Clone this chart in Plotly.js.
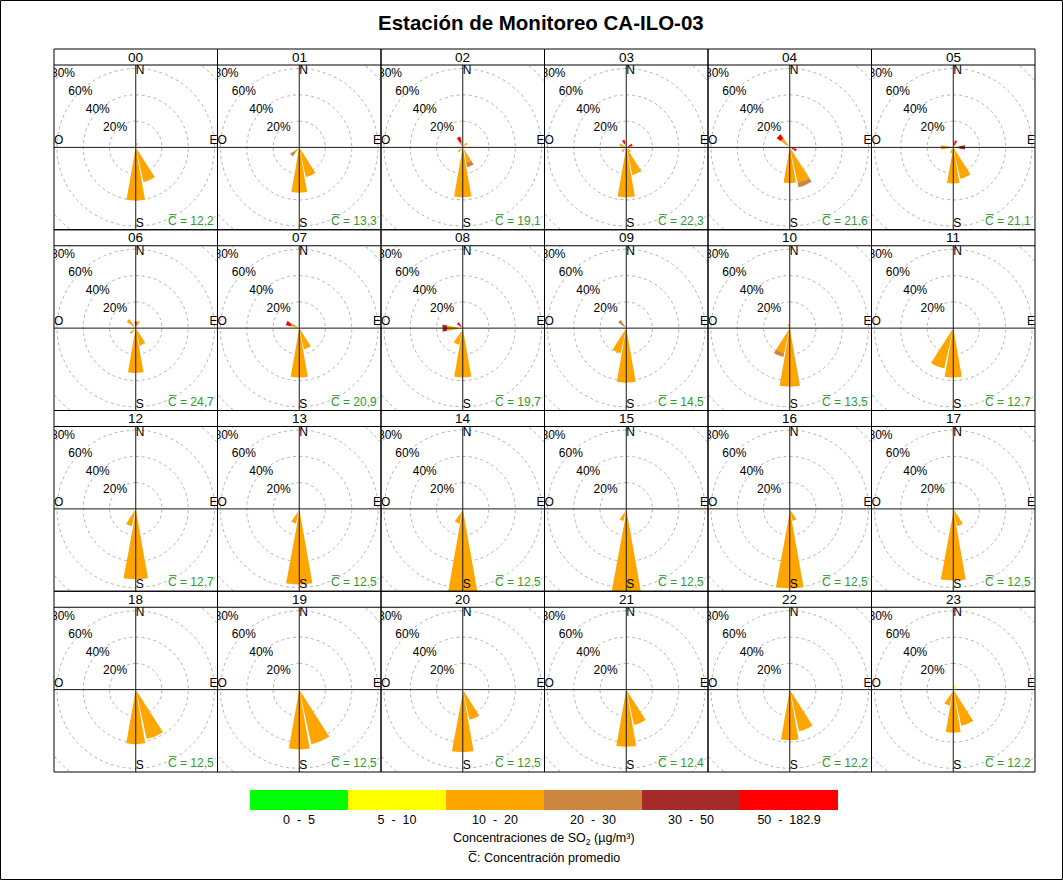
<!DOCTYPE html>
<html><head><meta charset="utf-8">
<script src="https://cdn.plot.ly/plotly-3.0.1.min.js"></script>
<style>html,body{margin:0;padding:0;background:#fff}</style>
</head><body><div id="chart" style="width:1063px;height:880px"></div>
<script>
// ---------------- DATA ----------------
const hours = ['00','01','02','03','04','05','06','07','08','09','10','11','12','13','14','15','16','17','18','19','20','21','22','23'];
const meanConc = [12.2,13.3,19.1,22.3,21.6,21.1,24.7,20.9,19.7,14.5,13.5,12.7,12.7,12.5,12.5,12.5,12.5,12.5,12.5,12.5,12.5,12.4,12.2,12.2];
const binLabels = ['0  -  5','5  -  10','10  -  20','20  -  30','30  -  50','50  -  182.9'];
const ringValues = [20,40,60,80];
const ringLabels = ['20%','40%','60%','80%'];
// each entry: [direction (deg, clockwise from N), concentration bin index, frequency % in that bin]
const freq00 = [[180,2,39],[157.5,2,25.5],[22.5,2,2]];
const freq01 = [[180,2,33],[157.5,2,21.5],[225,2,3.5],[225,3,3.5]];
const freq02 = [[180,2,36.4],[157.5,2,10.5],[157.5,3,3.5],[337.5,2,2.5],[337.5,5,4.5],[45,2,3],[225,2,3]];
const freq03 = [[180,2,36.4],[157.5,2,20],[337.5,2,1.5],[337.5,5,3],[67.5,5,3.5],[292.5,2,4],[225,2,3],[135,2,3]];
const freq04 = [[180,2,25.7],[157.5,2,26],[157.5,3,3.5],[315,2,7],[315,5,3.7],[112.5,5,4]];
const freq05 = [[180,2,26],[157.5,2,23],[270,2,8],[90,2,3],[90,4,4.5],[22.5,5,4],[202.5,2,3]];
const freq06 = [[180,2,32.6],[157.5,2,12],[315,2,7],[0,5,3.5],[22.5,2,4],[225,2,4]];
const freq07 = [[180,2,36],[157.5,2,15],[292.5,2,5],[292.5,5,4]];
const freq08 = [[180,2,36],[202.5,2,11.4],[270,2,10.5],[270,4,3.5],[315,5,4]];
const freq09 = [[180,2,40],[202.5,2,18],[315,3,6]];
const freq10 = [[180,2,43],[202.5,2,18],[202.5,3,3],[337.5,2,2]];
const freq11 = [[180,2,36],[202.5,2,30]];
const freq12 = [[180,2,52],[202.5,2,12]];
const freq13 = [[180,2,56],[202.5,2,10]];
const freq14 = [[180,2,65],[202.5,2,10]];
const freq15 = [[180,2,63],[202.5,2,8]];
const freq16 = [[180,2,59],[157.5,2,8]];
const freq17 = [[180,2,53],[157.5,2,12]];
const freq18 = [[180,2,40],[157.5,2,37]];
const freq19 = [[180,2,44],[157.5,2,41]];
const freq20 = [[180,2,46],[157.5,2,22]];
const freq21 = [[180,2,42],[157.5,2,26]];
const freq22 = [[180,2,37],[157.5,2,31]];
const freq23 = [[180,2,31.3],[157.5,2,26.7],[202.5,2,11],[22.5,1,2]];
const freqByHour = [freq00,freq01,freq02,freq03,freq04,freq05,freq06,freq07,freq08,freq09,freq10,freq11,
                    freq12,freq13,freq14,freq15,freq16,freq17,freq18,freq19,freq20,freq21,freq22,freq23];

// ---------------- STYLE / LAYOUT ----------------
const binColors = ['#00ff00','#ffff00','#ffa500','#cd853f','#a52a2a','#ff0000'];
const FONT = 'Arial, "Liberation Sans", sans-serif';
const W = 1063, H = 880;
const K = 1.315;            // pixels per 1 %
const colEdges = [54, 217.5, 381, 544.5, 708, 871.5, 1035];
const stripTops = [49, 229.75, 410.5, 591.25];
const plotBottoms = [229.75, 410.5, 591.25, 772];
const STRIP_H = 16;
const HALF_W = 10;          // wedge half-width (deg)
const R_START = 1.5;        // small hole at centre (%)

const px = v => v / W;
const py = v => 1 - v / H;
const rad = d => d * Math.PI / 180;

const traces = [], shapes = [], annotations = [];
const layout = {
  width: W, height: H, margin: {l:0, r:0, t:0, b:0},
  paper_bgcolor: '#fff', plot_bgcolor: 'rgba(0,0,0,0)',
  showlegend: false, hovermode: false, bargap: 0,
  font: {family: FONT, color: '#000', size: 12}
};

function sector(r0, r1, d) {
  const xs = [], ys = [];
  const n = 12;
  for (let k = 0; k <= n; k++) {
    const a = rad(d - HALF_W + 2 * HALF_W * k / n);
    xs.push(r1 * Math.sin(a)); ys.push(r1 * Math.cos(a));
  }
  for (let k = n; k >= 0; k--) {
    const a = rad(d - HALF_W + 2 * HALF_W * k / n);
    xs.push(r0 * Math.sin(a)); ys.push(r0 * Math.cos(a));
  }
  xs.push(xs[0]); ys.push(ys[0]);
  return {xs, ys};
}

hours.forEach((h, i) => {
  const r = Math.floor(i / 6), c = i % 6;
  const x0 = colEdges[c], x1 = colEdges[c + 1];
  const y0 = stripTops[r] + STRIP_H, y1 = plotBottoms[r];
  const cx = (x0 + x1) / 2, cy = (y0 + y1) / 2;
  const xr = [(x0 - cx) / K, (x1 - cx) / K];
  const yr = [(cy - y1) / K, (cy - y0) / K];
  const id = i === 0 ? '' : String(i + 1);
  const xa = 'x' + id, ya = 'y' + id;
  layout['xaxis' + id] = {domain: [px(x0), px(x1)], range: xr, anchor: ya, visible: false, fixedrange: true};
  layout['yaxis' + id] = {domain: [py(y1), py(y0)], range: yr, anchor: xa, visible: false, fixedrange: true};

  // dashed rings
  const cxs = [], cys = [];
  ringValues.forEach(rv => {
    for (let t = 0; t <= 360; t += 3) { cxs.push(rv * Math.sin(rad(t))); cys.push(rv * Math.cos(rad(t))); }
    cxs.push(null); cys.push(null);
  });
  traces.push({type: 'scatter', mode: 'lines', x: cxs, y: cys, xaxis: xa, yaxis: ya,
    line: {color: '#b4b4b4', width: 1, dash: '3px,3px'}, hoverinfo: 'skip'});

  // wedges (stacked by concentration bin)
  const cum = {};
  const entries = freqByHour[i].slice().sort((a, b) => a[1] - b[1]);
  entries.forEach(([d, bin, f]) => {
    const base = cum[d] === undefined ? R_START : cum[d];
    const top = base + f;
    cum[d] = top;
    const s = sector(base, top, d);
    traces.push({type: 'scatter', mode: 'lines', x: s.xs, y: s.ys, xaxis: xa, yaxis: ya,
      fill: 'toself', fillcolor: binColors[bin], line: {width: 0, color: binColors[bin]}, hoverinfo: 'skip'});
  });

  // cross lines
  traces.push({type: 'scatter', mode: 'lines', x: [xr[0], xr[1], null, 0, 0], y: [0, 0, null, yr[0], yr[1]],
    xaxis: xa, yaxis: ya, line: {color: '#1a1a1a', width: 1}, hoverinfo: 'skip'});

  // ring labels
  traces.push({type: 'scatter', mode: 'text', xaxis: xa, yaxis: ya, cliponaxis: true,
    x: ringValues.map(v => -(0.66 * v + 2.5)), y: ringValues.map(v => 0.685 * v + 0.7),
    text: ringLabels, textposition: 'middle center', textfont: {size: 12, color: '#000', family: FONT}, hoverinfo: 'skip'});
  // compass labels
  const comp = [['N', 0, yr[1], 'bottom right'], ['S', 0, yr[0], 'top right'], ['E', xr[1], 0, 'top left'], ['O', xr[0], 0, 'top right']];
  comp.forEach(([t, x, y, pos]) => {
    traces.push({type: 'scatter', mode: 'text', xaxis: xa, yaxis: ya, cliponaxis: true,
      x: [x], y: [y], text: [t], textposition: pos, textfont: {size: 12, color: '#000', family: FONT}, hoverinfo: 'skip'});
  });

  // mean concentration
  annotations.push({xref: xa + ' domain', yref: ya + ' domain', x: 1, y: 0, xanchor: 'right', yanchor: 'bottom',
    xshift: -2, yshift: 0, showarrow: false, text: 'C\u0305 = ' + meanConc[i].toFixed(1),
    font: {size: 12, color: '#2e9b2e', family: FONT}});

  // strip & panel borders
  shapes.push({type: 'rect', xref: 'paper', yref: 'paper', x0: px(x0), x1: px(x1), y0: py(stripTops[r]), y1: py(y1),
    line: {color: '#000', width: 1}, layer: 'above'});
  shapes.push({type: 'line', xref: 'paper', yref: 'paper', x0: px(x0), x1: px(x1), y0: py(y0), y1: py(y0),
    line: {color: '#000', width: 1}, layer: 'above'});
  annotations.push({xref: 'paper', yref: 'paper', x: px(cx), y: py(stripTops[r] + STRIP_H / 2), xanchor: 'center', yanchor: 'middle',
    showarrow: false, text: h, font: {size: 13.5, color: '#000', family: FONT}});
});

// colour key as a bar subplot
layout.xaxis25 = {domain: [px(250), px(838)], anchor: 'y25', type: 'category', range: [-0.5, 5.5],
  showgrid: false, zeroline: false, showline: false, ticks: '', ticklen: 0, tickfont: {size: 12.5, family: FONT, color: '#000'}, fixedrange: true};
layout.yaxis25 = {domain: [py(810), py(790)], anchor: 'x25', range: [0, 1], visible: false, fixedrange: true};
traces.push({type: 'bar', x: binLabels, y: binLabels.map(() => 1), width: 1, xaxis: 'x25', yaxis: 'y25',
  marker: {color: binColors, line: {width: 0}}, hoverinfo: 'skip'});

annotations.push({xref: 'paper', yref: 'paper', x: px(544), y: py(839), xanchor: 'center', yanchor: 'middle', showarrow: false,
  text: 'Concentraciones de SO<sub>2</sub> (µg/m³)', font: {size: 12.5, family: FONT, color: '#000'}});
annotations.push({xref: 'paper', yref: 'paper', x: px(544), y: py(858), xanchor: 'center', yanchor: 'middle', showarrow: false,
  text: 'C\u0305: Concentración promedio', font: {size: 12.5, family: FONT, color: '#000'}});
annotations.push({xref: 'paper', yref: 'paper', x: px(541), y: py(23), xanchor: 'center', yanchor: 'middle', showarrow: false,
  text: '<b>Estación de Monitoreo CA-ILO-03</b>', font: {size: 20.5, family: FONT, color: '#000'}});
shapes.push({type: 'rect', xref: 'paper', yref: 'paper', x0: px(0.5), x1: px(1062.5), y0: py(0.5), y1: py(879.5),
  line: {color: '#000', width: 1}, layer: 'above'});

layout.shapes = shapes;
layout.annotations = annotations;
Plotly.newPlot('chart', traces, layout, {staticPlot: true, displayModeBar: false});
</script>
</body></html>
